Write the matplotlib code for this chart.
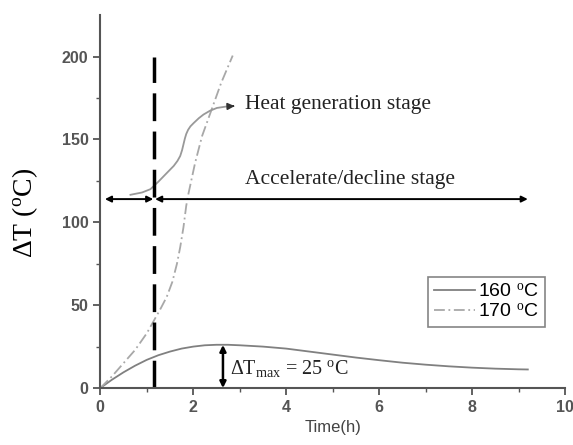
import numpy as np
import matplotlib.pyplot as plt

serif = 'Liberation Serif'
sans = 'Liberation Sans'
plt.rcParams['mathtext.fontset'] = 'custom'
plt.rcParams['mathtext.rm'] = serif
plt.rcParams['mathtext.it'] = serif + ':italic'

# 160 °C curve
t_160 = [0, 0.25, 0.5, 0.75, 1.0, 1.25, 1.5, 1.75, 2.0, 2.25, 2.5, 2.75, 3.0,
         3.5, 4.0, 4.5, 5.0, 5.5, 6.0, 6.5, 7.0, 7.5, 8.0, 8.5, 9.0, 9.2]
dT_160 = [0, 5, 9.5, 13.5, 17, 19.8, 22, 23.8, 25, 25.8, 26.1, 26.1, 25.8,
          25, 23.8, 22, 20.2, 18.4, 16.8, 15.3, 14.1, 13.1, 12.3, 11.7, 11.3, 11.2]

# 170 °C curve
t_170 = [0, 0.25, 0.5, 0.75, 1.0, 1.16, 1.3, 1.43, 1.55, 1.65, 1.72, 1.79,
         1.85, 1.9, 2.04, 2.19, 2.37, 2.6, 2.85]
dT_170 = [0, 7, 15, 23, 33, 41, 48, 55, 64, 75, 85, 97,
          110, 117.6, 135.8, 152, 166, 184, 200.6]

# heat generation stage curve (annotation)
t_heat = [0.65, 0.9, 1.08, 1.25, 1.43, 1.58, 1.66, 1.72, 1.76, 1.79, 1.82,
          1.85, 1.89, 1.94, 2.01, 2.12, 2.22, 2.36, 2.51, 2.7, 2.82]
dT_heat = [116.6, 118, 120, 124.5, 129.7, 134, 137, 140, 143.5, 147, 150.5,
           153.3, 155.8, 157.9, 159.9, 162.8, 165, 167.3, 169, 169.8, 170]

t_split = 1.16
t_peak = 2.64
y_stage = 114

fig = plt.figure(figsize=(5.73, 4.45), dpi=100)
ax = fig.add_axes([0.175, 0.128, 0.811, 0.838])

ax.plot(t_160, dT_160, color='#808080', lw=1.3, label='160 $^{\\mathrm{o}}$C')
ax.plot(t_170, dT_170, color='#a8a8a8', lw=1.3, ls=(0, (6, 2, 1, 2)),
        label='170 $^{\\mathrm{o}}$C')
ax.plot(t_heat, dT_heat, color='#999999', lw=1.3)
ax.annotate('', xy=(2.95, 170.2), xytext=(2.8, 170),
            arrowprops=dict(arrowstyle='-|>', color='#333333', lw=1.2,
                            mutation_scale=10))

# vertical dashed separator
ax.plot([t_split, t_split], [0, 200], color='black', lw=2.5,
        ls=(0, (8, 3)))

# stage arrows
arrow = dict(arrowstyle='<|-|>', color='black', lw=1.4, mutation_scale=9,
             shrinkA=0, shrinkB=0)
ax.annotate('', xy=(0.1, y_stage), xytext=(t_split - 0.02, y_stage),
            arrowprops=arrow)
ax.annotate('', xy=(t_split + 0.02, y_stage), xytext=(9.2, y_stage),
            arrowprops=arrow)
ax.annotate('', xy=(t_peak, 0), xytext=(t_peak, 26),
            arrowprops=dict(arrowstyle='<|-|>', color='black', lw=1.8,
                            mutation_scale=9, shrinkA=0, shrinkB=0))

ax.text(3.12, 171, 'Heat generation stage', family=serif, fontsize=15.5,
        va='center', color='#222222')
ax.text(5.38, 126, 'Accelerate/decline stage', family=serif, fontsize=15.5,
        va='center', ha='center', color='#222222')
ax.text(2.8, 12, '$\\Delta$T$_{\\mathrm{max}}$ = 25 $^{\\mathrm{o}}$C',
        family=serif, fontsize=14.5, va='center', color='#222222')

ax.set_xlim(0, 10)
ax.set_ylim(0, 225)
ax.set_xticks([0, 2, 4, 6, 8, 10])
ax.set_xticks([1, 3, 5, 7, 9], minor=True)
ax.set_yticks([0, 50, 100, 150, 200])
ax.set_yticks([25, 75, 125, 175], minor=True)

for s in ['top', 'right']:
    ax.spines[s].set_visible(False)
for s in ['left', 'bottom']:
    ax.spines[s].set_color('#555555')
    ax.spines[s].set_linewidth(1.5)
ax.tick_params(which='major', length=5, width=1.3, color='#555555',
               labelcolor='#555555', labelsize=11.5)
ax.tick_params(which='minor', length=3, width=1.0, color='#555555')
for lab in ax.get_xticklabels() + ax.get_yticklabels():
    lab.set_fontweight('bold')
    lab.set_family(sans)

ax.set_xlabel('Time(h)', family=sans, fontsize=12, color='#444444')
ax.set_ylabel('$\\Delta$T ($^{\\mathrm{o}}$C)', family=serif, fontsize=20)
ax.yaxis.set_label_coords(-0.129, 0.469)

leg = ax.legend(loc='lower right', bbox_to_anchor=(0.957, 0.164),
                borderaxespad=0, prop={'family': sans, 'size': 14},
                fancybox=False, edgecolor='#666666', handlelength=2.1,
                handletextpad=0.2, borderpad=0.3, labelspacing=0.15)
leg.get_frame().set_linewidth(1.2)

fig.savefig('out.png', dpi=100)
